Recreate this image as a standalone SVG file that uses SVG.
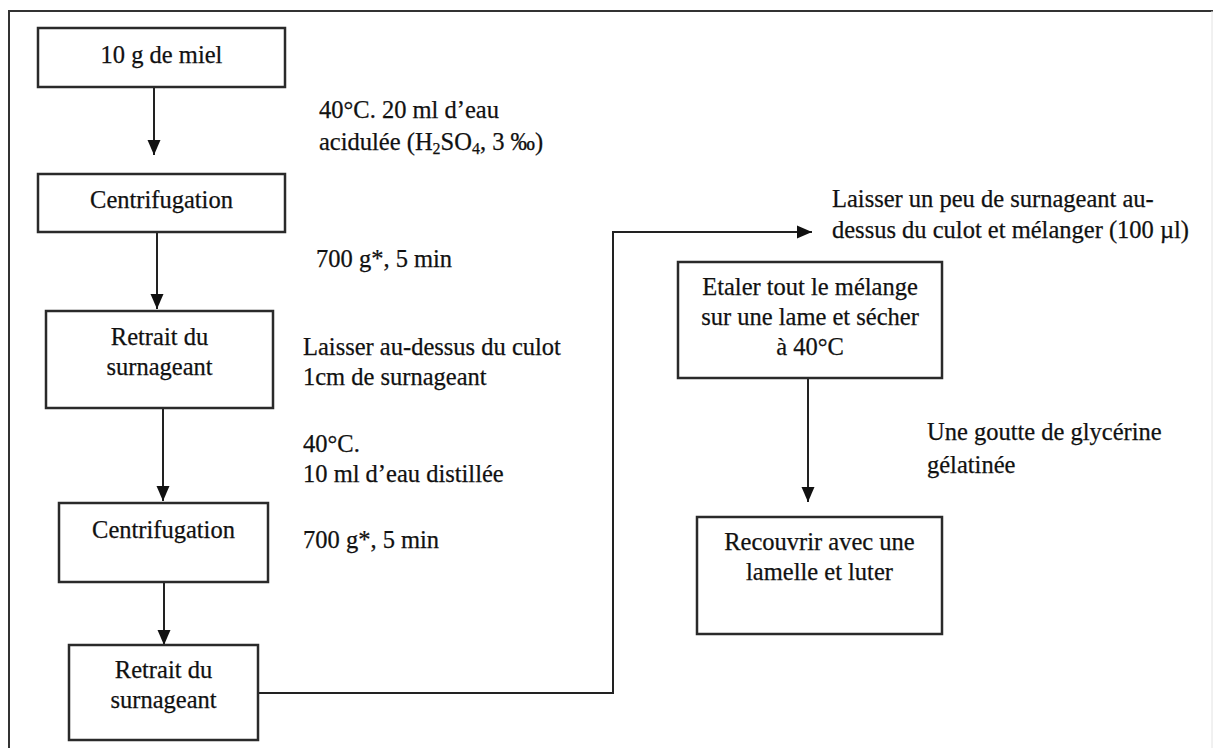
<svg xmlns="http://www.w3.org/2000/svg" width="1213" height="748" viewBox="0 0 1213 748">
<style>
.box{fill:#fff;stroke:#2a2a2a;stroke-width:2.5}
.t{font-family:"Liberation Serif","Times New Roman",serif;font-size:24.5px;fill:#111;stroke:#111;stroke-width:0.25}
.c{text-anchor:middle}
.ln{fill:none;stroke:#222;stroke-width:2}
.sub{font-size:16px}
</style>
<defs>
<marker id="ah" markerUnits="userSpaceOnUse" markerWidth="16" markerHeight="16" viewBox="0 0 16 16" refX="15" refY="8" orient="auto">
<path d="M0,1.5 L15,8 L0,14.5 Z" fill="#111"/>
</marker>
</defs>
<rect width="1213" height="748" fill="#fff"/>
<g id="frame">
<path d="M9,748 V11 H1213" fill="none" stroke="#333" stroke-width="2"/>
<path d="M1212,11 V748" fill="none" stroke="#e2e2e2" stroke-width="1"/>
</g>
<g id="connectors">
<path class="ln" d="M154,87 V155" marker-end="url(#ah)"/>
<path class="ln" d="M157,232 V309" marker-end="url(#ah)"/>
<path class="ln" d="M163,408 V501" marker-end="url(#ah)"/>
<path class="ln" d="M164,582 V645" marker-end="url(#ah)"/>
<path class="ln" d="M258,693 H613 V232 H812" marker-end="url(#ah)"/>
<path class="ln" d="M808,378 V502" marker-end="url(#ah)"/>
</g>
<g id="n1"><rect class="box" x="38" y="28" width="247" height="59"/><text class="t c" x="161.5" y="63">10 g de miel</text></g>
<g id="n2"><rect class="box" x="38" y="174" width="247" height="58"/><text class="t c" x="161.5" y="208">Centrifugation</text></g>
<g id="n3"><rect class="box" x="46" y="311" width="227" height="97"/><text class="t c" x="159.5" y="345">Retrait du</text><text class="t c" x="159.5" y="375">surnageant</text></g>
<g id="n4"><rect class="box" x="59" y="503" width="209" height="79"/><text class="t c" x="163.5" y="538">Centrifugation</text></g>
<g id="n5"><rect class="box" x="69" y="645" width="189" height="95"/><text class="t c" x="163.5" y="678">Retrait du</text><text class="t c" x="163.5" y="708">surnageant</text></g>
<g id="n6"><rect class="box" x="678" y="262" width="264" height="116"/><text class="t c" x="810" y="295">Etaler tout le mélange</text><text class="t c" x="810" y="325">sur une lame et sécher</text><text class="t c" x="810" y="355">à 40°C</text></g>
<g id="n7"><rect class="box" x="697" y="517" width="245" height="117"/><text class="t c" x="819.5" y="550">Recouvrir avec une</text><text class="t c" x="819.5" y="580">lamelle et luter</text></g>
<g id="labels">
<text class="t" x="319" y="118">40°C. 20 ml d’eau</text>
<text class="t" x="319" y="150">acidulée (H<tspan class="sub" dy="4">2</tspan><tspan dy="-4">SO</tspan><tspan class="sub" dy="4">4</tspan><tspan dy="-4">, 3 ‰)</tspan></text>
<text class="t" x="316" y="267">700 g*, 5 min</text>
<text class="t" x="303" y="355">Laisser au-dessus du culot</text>
<text class="t" x="303" y="385">1cm de surnageant</text>
<text class="t" x="303" y="452">40°C.</text>
<text class="t" x="303" y="482">10 ml d’eau distillée</text>
<text class="t" x="303" y="548">700 g*, 5 min</text>
<text class="t" x="832" y="207">Laisser un peu de surnageant au-</text>
<text class="t" x="832" y="238">dessus du culot et mélanger (100 µl)</text>
<text class="t" x="927" y="440">Une goutte de glycérine</text>
<text class="t" x="927" y="473">gélatinée</text>
</g>
</svg>
